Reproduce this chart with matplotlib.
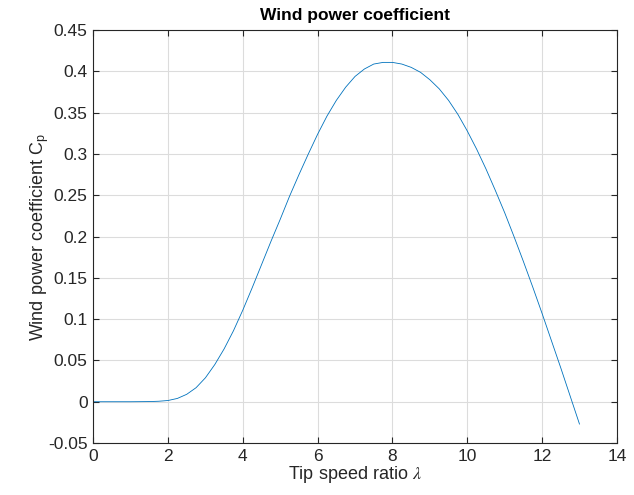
import numpy as np
import matplotlib
matplotlib.use("Agg")
import matplotlib.pyplot as plt

# tip speed ratio and power coefficient
lam = [0.0, 0.5, 1.0, 1.5, 1.75, 2.0, 2.25, 2.5, 2.75, 3.0, 3.25, 3.5, 3.75,
       4.0, 4.25, 4.5, 4.75, 5.0, 5.25, 5.5, 5.75, 6.0, 6.25, 6.5, 6.75,
       7.0, 7.25, 7.5, 7.75, 8.0, 8.25, 8.5, 8.75, 9.0, 9.25, 9.5, 9.75,
       10.0, 10.25, 10.5, 10.75, 11.0, 11.25, 11.5, 11.75, 12.0, 12.25,
       12.5, 12.75, 13.0]
cp = [0.0, 0.0, 0.0, 0.0002, 0.0006, 0.0015, 0.004, 0.009, 0.017, 0.029,
      0.045, 0.064, 0.086, 0.111, 0.138, 0.166, 0.194, 0.221, 0.249, 0.275,
      0.300, 0.324, 0.346, 0.365, 0.381, 0.394, 0.403, 0.409, 0.411, 0.411,
      0.409, 0.405, 0.399, 0.390, 0.379, 0.365, 0.348, 0.328, 0.306, 0.282,
      0.256, 0.229, 0.200, 0.170, 0.139, 0.107, 0.074, 0.041, 0.007, -0.027]

xticks = [0, 2, 4, 6, 8, 10, 12, 14]
yticks = [-0.05, 0, 0.05, 0.1, 0.15, 0.2, 0.25, 0.3, 0.35, 0.4, 0.45]
ytick_labels = ["-0.05", "0", "0.05", "0.1", "0.15", "0.2", "0.25", "0.3",
                "0.35", "0.4", "0.45"]

plt.rcParams['font.family'] = ['Liberation Sans', 'DejaVu Sans']
plt.rcParams['mathtext.fontset'] = 'stix'

dark = '#262626'
fig = plt.figure(figsize=(6.34, 4.95), dpi=100)
ax = fig.add_axes([0.147, 0.105, 0.826, 0.834])

ax.plot(lam, cp, color=(0, 0.447, 0.741), lw=0.6)

ax.set_xlim(0, 14)
ax.set_ylim(-0.05, 0.45)
ax.set_xticks(xticks)
ax.set_xticklabels([str(t) for t in xticks])
ax.set_yticks(yticks)
ax.set_yticklabels(ytick_labels)

ax.grid(True, color='#dcdcdc', lw=0.8)
ax.set_axisbelow(True)
ax.tick_params(direction='in', top=True, right=True, length=4, width=0.8,
               colors=dark, labelsize=12.5, pad=4)
for s in ax.spines.values():
    s.set_color(dark)
    s.set_linewidth(0.8)

ax.set_title('Wind power coefficient', fontsize=12.5, fontweight='bold', pad=7)
ax.set_xlabel('Tip speed ratio $\\lambda$', fontsize=13, color=dark, labelpad=0)
ax.set_ylabel('Wind power coefficient C$_\\mathregular{p}$', fontsize=13,
              color=dark, labelpad=-2)

fig.savefig('out.png', dpi=100)
